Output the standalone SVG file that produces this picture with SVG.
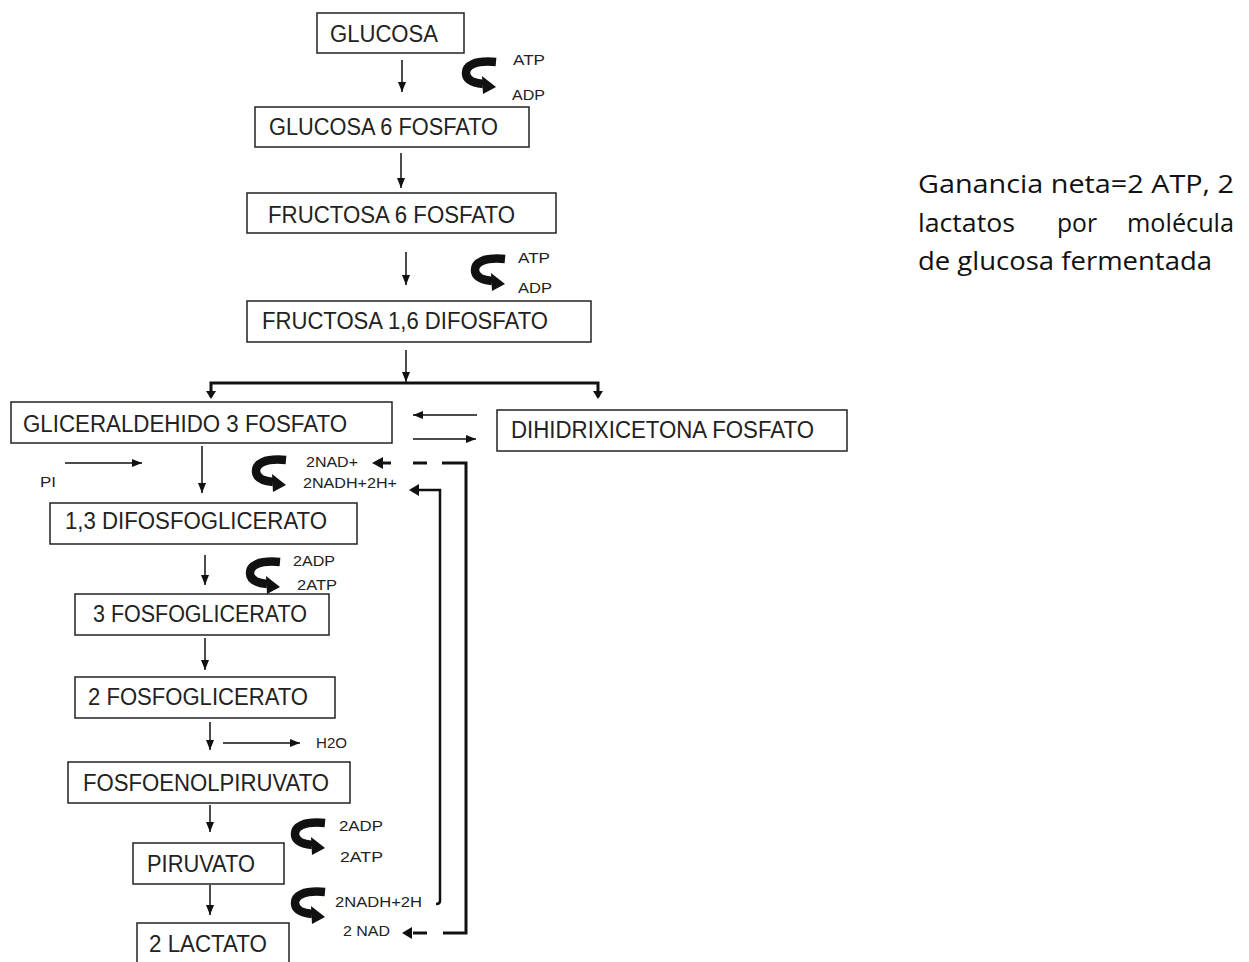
<svg xmlns="http://www.w3.org/2000/svg" width="1249" height="962" viewBox="0 0 1249 962">
<style>
.box{fill:#fff;stroke:#222;stroke-width:1.5}
.lbl{font-family:"Liberation Sans",Arial,sans-serif;font-size:23px;fill:#222}
.sm{font-family:"Liberation Sans",Arial,sans-serif;font-size:15.5px;fill:#222}
.side{font-family:"Open Sans","Noto Sans",sans-serif;font-size:26px;fill:#111}
.thin{stroke:#111;stroke-width:1.5;fill:none}
.thick{stroke:#111;stroke-width:3;fill:none}
.mid{stroke:#111;stroke-width:2.5;fill:none}
</style>
<defs>
<marker id="ah" markerUnits="userSpaceOnUse" markerWidth="10" markerHeight="8" refX="10" refY="4" orient="auto">
<path d="M0,0 L10,4 L0,8 z" fill="#111"/>
</marker>
<g id="curl">
<path d="M34,5 C12,3 4,9 4,16 C4,23 11,26 21,27" stroke="#111" stroke-width="8.5" fill="none"/>
<polygon points="20,19 34,30 21,37" fill="#111"/>
</g>
</defs>
<rect width="1249" height="962" fill="#fff"/>

<g id="connectors">
<line class="thin" x1="402" y1="60" x2="402" y2="92" marker-end="url(#ah)"/>
<line class="thin" x1="401" y1="153" x2="401" y2="188" marker-end="url(#ah)"/>
<line class="thin" x1="406" y1="252" x2="406" y2="285" marker-end="url(#ah)"/>
<line class="thin" x1="406" y1="350" x2="406" y2="382" marker-end="url(#ah)"/>
<path class="thick" d="M211,397 L211,383 L598,383 L598,397"/>
<polygon points="206,391 216,391 211,399" fill="#111"/>
<polygon points="593,391 603,391 598,399" fill="#111"/>
<line class="thin" x1="477" y1="415" x2="413" y2="415" marker-end="url(#ah)"/>
<line class="thin" x1="413" y1="439" x2="476" y2="439" marker-end="url(#ah)"/>
<line class="thin" x1="202" y1="446" x2="202" y2="493" marker-end="url(#ah)"/>
<line class="thin" x1="65" y1="463" x2="142" y2="463" marker-end="url(#ah)"/>
<line class="thin" x1="205" y1="555" x2="205" y2="585" marker-end="url(#ah)"/>
<line class="thin" x1="205" y1="638" x2="205" y2="670" marker-end="url(#ah)"/>
<line class="thin" x1="210" y1="722" x2="210" y2="750" marker-end="url(#ah)"/>
<line class="thin" x1="223" y1="743" x2="300" y2="743" marker-end="url(#ah)"/>
<line class="thin" x1="210" y1="805" x2="210" y2="832" marker-end="url(#ah)"/>
<line class="thin" x1="210" y1="885" x2="210" y2="915" marker-end="url(#ah)"/>
<use href="#curl" transform="translate(462,57)"/>
<use href="#curl" transform="translate(471,254)"/>
<use href="#curl" transform="translate(252,455)"/>
<use href="#curl" transform="translate(246,557)"/>
<use href="#curl" transform="translate(291,818)"/>
<use href="#curl" transform="translate(291,887)"/>
<polygon points="372,463 383,457 383,469" fill="#111"/>
<line class="thick" x1="382" y1="463" x2="391" y2="463"/>
<line class="thick" x1="413" y1="463" x2="427" y2="463"/>
<path class="thick" d="M442,463 L466,463 L466,933 L443,933"/>
<line class="thick" x1="413" y1="933" x2="427" y2="933"/>
<polygon points="402,933 412,927 412,939" fill="#111"/>
<polygon points="409,490 419,484 419,496" fill="#111"/>
<path class="mid" d="M418,490 L440,490 L440,901 Q440,904 436,904"/>
</g>

<g id="n-glucosa"><rect class="box" x="317" y="13" width="147" height="40"/><text class="lbl" x="330" y="42" textLength="108" lengthAdjust="spacingAndGlyphs">GLUCOSA</text></g>
<g id="n-g6p"><rect class="box" x="255" y="107" width="274" height="40"/><text class="lbl" x="269" y="135" textLength="229" lengthAdjust="spacingAndGlyphs">GLUCOSA 6 FOSFATO</text></g>
<g id="n-f6p"><rect class="box" x="247" y="193" width="309" height="40"/><text class="lbl" x="268" y="223" textLength="247" lengthAdjust="spacingAndGlyphs">FRUCTOSA 6 FOSFATO</text></g>
<g id="n-f16dp"><rect class="box" x="247" y="301" width="344" height="41"/><text class="lbl" x="262" y="329" textLength="286" lengthAdjust="spacingAndGlyphs">FRUCTOSA 1,6 DIFOSFATO</text></g>
<g id="n-g3p"><rect class="box" x="11" y="402" width="381" height="41"/><text class="lbl" x="23" y="432" textLength="324" lengthAdjust="spacingAndGlyphs">GLICERALDEHIDO 3 FOSFATO</text></g>
<g id="n-dhap"><rect class="box" x="497" y="410" width="350" height="41"/><text class="lbl" x="511" y="438" textLength="303" lengthAdjust="spacingAndGlyphs">DIHIDRIXICETONA FOSFATO</text></g>
<g id="n-13dpg"><rect class="box" x="50" y="503" width="307" height="41"/><text class="lbl" x="65" y="529" textLength="262" lengthAdjust="spacingAndGlyphs">1,3 DIFOSFOGLICERATO</text></g>
<g id="n-3pg"><rect class="box" x="75" y="594" width="254" height="41"/><text class="lbl" x="93" y="622" textLength="214" lengthAdjust="spacingAndGlyphs">3 FOSFOGLICERATO</text></g>
<g id="n-2pg"><rect class="box" x="75" y="677" width="260" height="41"/><text class="lbl" x="88" y="705" textLength="220" lengthAdjust="spacingAndGlyphs">2 FOSFOGLICERATO</text></g>
<g id="n-pep"><rect class="box" x="68" y="762" width="282" height="41"/><text class="lbl" x="83" y="791" textLength="246" lengthAdjust="spacingAndGlyphs">FOSFOENOLPIRUVATO</text></g>
<g id="n-piruvato"><rect class="box" x="133" y="843" width="151" height="41"/><text class="lbl" x="147" y="872" textLength="108" lengthAdjust="spacingAndGlyphs">PIRUVATO</text></g>
<g id="n-lactato"><rect class="box" x="137" y="923" width="152" height="42"/><text class="lbl" x="149" y="952" textLength="118" lengthAdjust="spacingAndGlyphs">2 LACTATO</text></g>

<g id="labels">
<text class="sm" x="513" y="65" textLength="32" lengthAdjust="spacingAndGlyphs">ATP</text>
<text class="sm" x="512" y="100" textLength="33" lengthAdjust="spacingAndGlyphs">ADP</text>
<text class="sm" x="518" y="263" textLength="32" lengthAdjust="spacingAndGlyphs">ATP</text>
<text class="sm" x="518" y="293" textLength="34" lengthAdjust="spacingAndGlyphs">ADP</text>
<text class="sm" x="306" y="467" textLength="52" lengthAdjust="spacingAndGlyphs">2NAD+</text>
<text class="sm" x="303" y="488" textLength="94" lengthAdjust="spacingAndGlyphs">2NADH+2H+</text>
<text class="sm" x="40" y="487" textLength="16" lengthAdjust="spacingAndGlyphs">PI</text>
<text class="sm" x="293" y="566" textLength="42" lengthAdjust="spacingAndGlyphs">2ADP</text>
<text class="sm" x="297" y="590" textLength="40" lengthAdjust="spacingAndGlyphs">2ATP</text>
<text class="sm" x="316" y="748" textLength="31" lengthAdjust="spacingAndGlyphs">H2O</text>
<text class="sm" x="339" y="831" textLength="44" lengthAdjust="spacingAndGlyphs">2ADP</text>
<text class="sm" x="340" y="862" textLength="43" lengthAdjust="spacingAndGlyphs">2ATP</text>
<text class="sm" x="335" y="907" textLength="87" lengthAdjust="spacingAndGlyphs">2NADH+2H</text>
<text class="sm" x="343" y="936" textLength="47" lengthAdjust="spacingAndGlyphs">2 NAD</text>
</g>

<g id="summary">
<text class="side" x="918" y="193" textLength="316" lengthAdjust="spacingAndGlyphs">Ganancia neta=2 ATP, 2</text>
<text class="side" y="232"><tspan x="918" textLength="97" lengthAdjust="spacingAndGlyphs">lactatos</tspan><tspan x="1057" textLength="40" lengthAdjust="spacingAndGlyphs">por</tspan><tspan x="1127" textLength="107" lengthAdjust="spacingAndGlyphs">molécula</tspan></text>
<text class="side" x="918" y="270" textLength="294" lengthAdjust="spacingAndGlyphs">de glucosa fermentada</text>
</g>
</svg>
